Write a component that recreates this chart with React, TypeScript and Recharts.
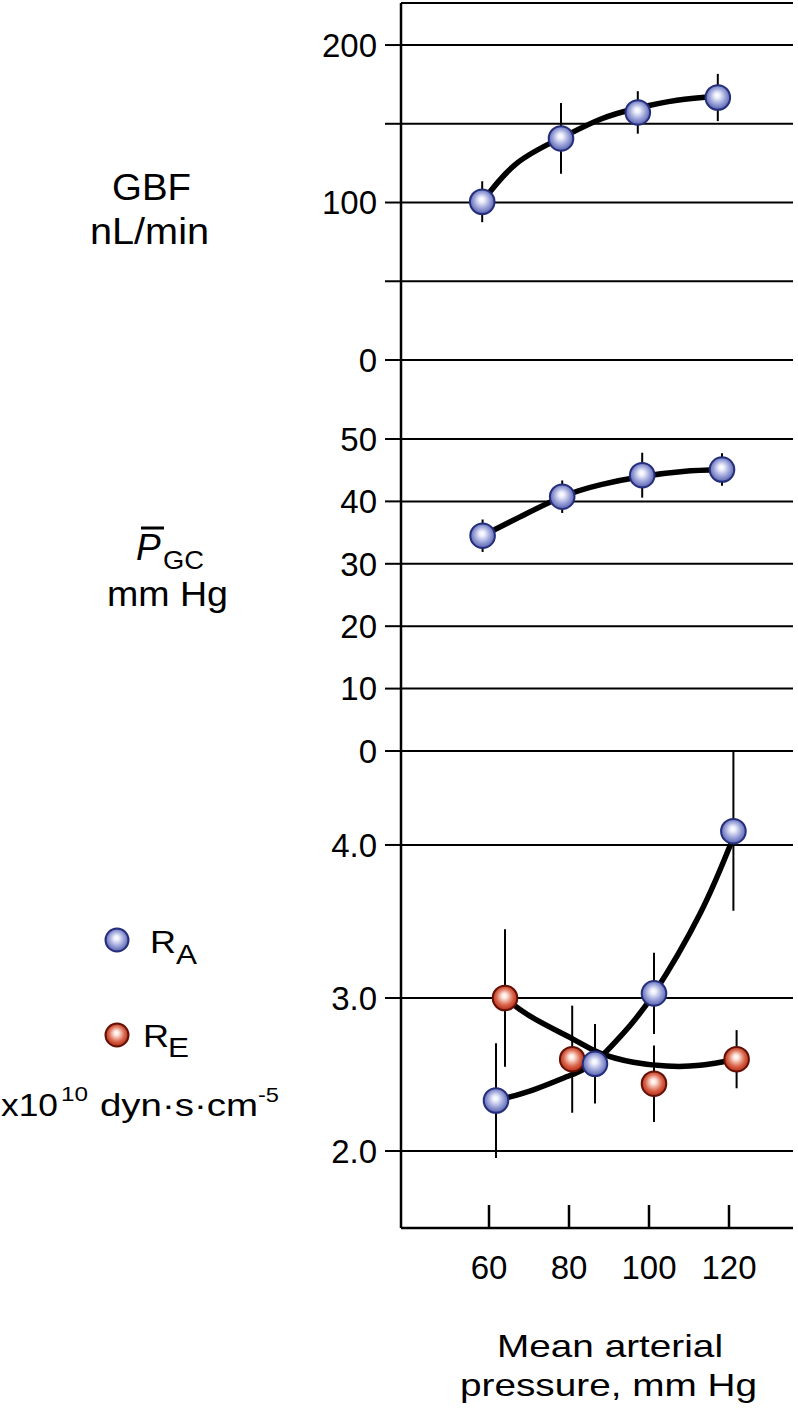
import React from 'react';
import { ComposedChart, Line, Scatter, XAxis, YAxis, CartesianGrid, ErrorBar } from 'recharts';

const FONT = '"Liberation Sans", Arial, Helvetica, sans-serif';

// x axis (mean arterial pressure, mm Hg)
const xTicks = [60, 80, 100, 120];
const xDomain = [38, 136];

// GBF, nL/min
const gbfX = [58.3, 78.0, 97.2, 117.2];
const gbfY = [100.5, 140.7, 157.2, 166.7];
const gbfErr = [13, 22.5, 13.5, 15];
const gbfFitX = [58.3, 67, 78, 88, 97.2, 107, 117.2];
const gbfFitY = [100.5, 125, 141, 153, 160, 165, 167.5];
const gbfTicks = [0, 50, 100, 150, 200];
const gbfLabelled = [0, 100, 200];

// P_GC, mm Hg
const pgcX = [58.4, 78.3, 98.3, 118.25];
const pgcY = [34.5, 40.75, 44.2, 45.1];
const pgcErr = [2.6, 2.6, 3.6, 2.6];
const pgcFitX = [58.4, 68, 78.3, 88, 98.3, 108.5, 118.3];
const pgcFitY = [34.5, 37.6, 40.75, 42.7, 44.0, 44.8, 45.1];
const pgcTicks = [0, 10, 20, 30, 40, 50];

// R_A and R_E, x10^10 dyn·s·cm^-5
const raX = [61.75, 86.5, 101.25, 121.1];
const raY = [2.33, 2.57, 3.03, 4.09];
const raErr = [0.375, 0.26, 0.265, 0.52];
const raFitX = [61.75, 71.1, 80.8, 86.5, 93.6, 101.25, 112.75, 121.1];
const raFitY = [2.33, 2.4, 2.5, 2.58, 2.77, 3.03, 3.55, 4.05];

const reX = [64, 80.8, 101.25, 121.9];
const reY = [3.0, 2.6, 2.44, 2.6];
const reErr = [0.45, 0.35, 0.25, 0.19];
const reFitX = [64, 71, 81.1, 87.75, 96.1, 104.4, 112.75, 121.9];
const reFitY = [3.0, 2.87, 2.73, 2.64, 2.58, 2.555, 2.56, 2.6];
const rTicks = [2, 3, 4];

const pts = (xs: number[], ys: number[], es?: number[]) =>
  xs.map((x, i) => ({ x, y: ys[i], e: es ? es[i] : 0 }));

const gbfData = pts(gbfX, gbfY, gbfErr);
const gbfFit = pts(gbfFitX, gbfFitY);
const pgcData = pts(pgcX, pgcY, pgcErr);
const pgcFit = pts(pgcFitX, pgcFitY);
const raData = pts(raX, raY, raErr);
const raFit = pts(raFitX, raFitY);
const reData = pts(reX, reY, reErr);
const reFit = pts(reFitX, reFitY);

const BLUE_STROKE = '#242e7a';
const RED_STROKE = '#621006';

const sphere = (kind: 'blue' | 'red') => (props: any) => {
  const { cx, cy } = props;
  if (cx == null || cy == null) return <g />;
  return (
    <circle
      cx={cx}
      cy={cy}
      r={12.3}
      fill={`url(#sphere-${kind})`}
      stroke={kind === 'blue' ? BLUE_STROKE : RED_STROKE}
      strokeWidth={2}
    />
  );
};

const tickStyle = { fill: '#000', fontSize: 33, fontFamily: FONT };
const axisLineStyle = { stroke: '#000', strokeWidth: 2.5 };
const tickLineStyle = { stroke: '#000', strokeWidth: 2 };
const CURVE_W = 5.5;

const XTick = (props: any) => {
  const { x, y, payload } = props;
  return (
    <g>
      <line x1={x} x2={x} y1={y} y2={y - 23} stroke="#000" strokeWidth={2.5} />
      <text x={x} y={y + 51} textAnchor="middle" fontSize={33} fontFamily={FONT} fill="#000">
        {payload.value}
      </text>
    </g>
  );
};

const RightBorder = () => (
  <YAxis
    yAxisId="r"
    orientation="right"
    width={0}
    domain={[0, 1]}
    tick={false}
    tickLine={false}
    axisLine={axisLineStyle}
  />
);

const W = 798;
const M_RIGHT = 5;
const Y_W = 401;

export default function App() {
  return (
    <div style={{ position: 'absolute', left: 0, top: 0, width: 798, height: 1411, background: '#fff', fontFamily: FONT }}>
      {/* Panel 1: GBF */}
      <div style={{ position: 'absolute', left: 0, top: 0 }}>
        <ComposedChart width={W} height={390} margin={{ top: 3, right: M_RIGHT, bottom: 30, left: 0 }}>
          <CartesianGrid vertical={false} stroke="#000" strokeWidth={2} />
          <XAxis
            type="number"
            dataKey="x"
            domain={xDomain}
            allowDataOverflow
            orientation="top"
            height={0}
            tick={false}
            tickLine={false}
            axisLine={axisLineStyle}
          />
          <YAxis
            type="number"
            domain={[0, 226.7]}
            allowDataOverflow
            ticks={gbfTicks}
            interval={0}
            width={Y_W}
            tickSize={16}
            tickMargin={8}
            tick={tickStyle}
            tickLine={tickLineStyle}
            axisLine={axisLineStyle}
            tickFormatter={(v: number) => (gbfLabelled.includes(v) ? String(v) : '')}
          />
          {RightBorder()}
          <Line data={gbfFit} dataKey="y" type="natural" stroke="#000" strokeWidth={CURVE_W} dot={false} isAnimationActive={false} />
          <Scatter data={gbfData} dataKey="y" shape={sphere('blue')} isAnimationActive={false}>
            <ErrorBar dataKey="e" direction="y" width={0} stroke="#000" strokeWidth={2} isAnimationActive={false} />
          </Scatter>
        </ComposedChart>
      </div>

      {/* Panel 2: P_GC */}
      <div style={{ position: 'absolute', left: 0, top: 340 }}>
        <ComposedChart width={W} height={450} margin={{ top: 20, right: M_RIGHT, bottom: 39, left: 0 }}>
          <CartesianGrid vertical={false} stroke="#000" strokeWidth={2} />
          <XAxis type="number" dataKey="x" domain={xDomain} allowDataOverflow hide />
          <YAxis
            type="number"
            domain={[0, 62.66]}
            allowDataOverflow
            ticks={pgcTicks}
            interval={0}
            width={Y_W}
            tickSize={16}
            tickMargin={8}
            tick={tickStyle}
            tickLine={tickLineStyle}
            axisLine={axisLineStyle}
          />
          {RightBorder()}
          <Line data={pgcFit} dataKey="y" type="natural" stroke="#000" strokeWidth={CURVE_W} dot={false} isAnimationActive={false} />
          <Scatter data={pgcData} dataKey="y" shape={sphere('blue')} isAnimationActive={false}>
            <ErrorBar dataKey="e" direction="y" width={0} stroke="#000" strokeWidth={2} isAnimationActive={false} />
          </Scatter>
        </ComposedChart>
      </div>

      {/* Panel 3: R_A, R_E */}
      <div style={{ position: 'absolute', left: 0, top: 730 }}>
        <ComposedChart width={W} height={681} margin={{ top: 21, right: M_RIGHT, bottom: 123, left: 0 }}>
          <CartesianGrid vertical={false} stroke="#000" strokeWidth={2} />
          <XAxis
            type="number"
            dataKey="x"
            domain={xDomain}
            allowDataOverflow
            ticks={xTicks}
            interval={0}
            height={60}
            tickSize={0}
            tickMargin={0}
            tickLine={false}
            tick={<XTick />}
            axisLine={axisLineStyle}
          />
          <YAxis
            type="number"
            domain={[1.497, 4.614]}
            allowDataOverflow
            ticks={rTicks}
            interval={0}
            width={Y_W}
            tickSize={16}
            tickMargin={8}
            tick={tickStyle}
            tickLine={tickLineStyle}
            axisLine={axisLineStyle}
            tickFormatter={(v: number) => v.toFixed(1)}
          />
          {RightBorder()}
          <Line data={reFit} dataKey="y" type="natural" stroke="#000" strokeWidth={CURVE_W} dot={false} isAnimationActive={false} />
          <Line data={raFit} dataKey="y" type="natural" stroke="#000" strokeWidth={CURVE_W} dot={false} isAnimationActive={false} />
          <Scatter data={reData} dataKey="y" shape={sphere('red')} isAnimationActive={false}>
            <ErrorBar dataKey="e" direction="y" width={0} stroke="#000" strokeWidth={2} isAnimationActive={false} />
          </Scatter>
          <Scatter data={raData} dataKey="y" shape={sphere('blue')} isAnimationActive={false}>
            <ErrorBar dataKey="e" direction="y" width={0} stroke="#000" strokeWidth={2} isAnimationActive={false} />
          </Scatter>
        </ComposedChart>
      </div>

      {/* Titles, legend and units */}
      <svg
        width={798}
        height={1411}
        style={{ position: 'absolute', left: 0, top: 0, pointerEvents: 'none' }}
        fontFamily={FONT}
      >
        <defs>
          <radialGradient id="sphere-blue" cx="50%" cy="48%" r="55%" fx="47%" fy="40%">
            <stop offset="0%" stopColor="#ffffff" />
            <stop offset="20%" stopColor="#eceefa" />
            <stop offset="62%" stopColor="#959dd6" />
            <stop offset="100%" stopColor="#4f59a8" />
          </radialGradient>
          <radialGradient id="sphere-red" cx="50%" cy="48%" r="55%" fx="47%" fy="40%">
            <stop offset="0%" stopColor="#ffffff" />
            <stop offset="20%" stopColor="#fbe4dc" />
            <stop offset="62%" stopColor="#da664c" />
            <stop offset="100%" stopColor="#ac220e" />
          </radialGradient>
        </defs>

        <text x={112} y={200} fontSize={36} textLength={79} lengthAdjust="spacingAndGlyphs">GBF</text>
        <text x={90} y={244} fontSize={36} textLength={119} lengthAdjust="spacingAndGlyphs">nL/min</text>

        <text x={136} y={560} fontSize={37} fontStyle="italic">P</text>
        <line x1={141} x2={164} y1={528} y2={528} stroke="#000" strokeWidth={3} />
        <text x={163} y={569} fontSize={26} textLength={41} lengthAdjust="spacingAndGlyphs">GC</text>
        <text x={107} y={606} fontSize={35} textLength={121} lengthAdjust="spacingAndGlyphs">mm Hg</text>

        <circle cx={117} cy={940} r={11.5} fill="url(#sphere-blue)" stroke={BLUE_STROKE} strokeWidth={2} />
        <text x={150} y={953} fontSize={31} textLength={26} lengthAdjust="spacingAndGlyphs">R</text>
        <text x={176} y={964} fontSize={28} textLength={21} lengthAdjust="spacingAndGlyphs">A</text>

        <circle cx={117} cy={1035} r={11.5} fill="url(#sphere-red)" stroke={RED_STROKE} strokeWidth={2} />
        <text x={143} y={1047} fontSize={31} textLength={26} lengthAdjust="spacingAndGlyphs">R</text>
        <text x={168} y={1057} fontSize={27} textLength={21} lengthAdjust="spacingAndGlyphs">E</text>

        <text x={1} y={1116} fontSize={32} textLength={57} lengthAdjust="spacingAndGlyphs">x10</text>
        <text x={61} y={1101} fontSize={21} textLength={27} lengthAdjust="spacingAndGlyphs">10</text>
        <text x={100} y={1116} fontSize={32} textLength={158} lengthAdjust="spacingAndGlyphs">dyn·s·cm</text>
        <text x={258} y={1102} fontSize={21} textLength={21} lengthAdjust="spacingAndGlyphs">-5</text>

        <text x={497} y={1357} fontSize={32} textLength={226} lengthAdjust="spacingAndGlyphs">Mean arterial</text>
        <text x={460} y={1396} fontSize={32} textLength={297} lengthAdjust="spacingAndGlyphs">pressure, mm Hg</text>
      </svg>
    </div>
  );
}
